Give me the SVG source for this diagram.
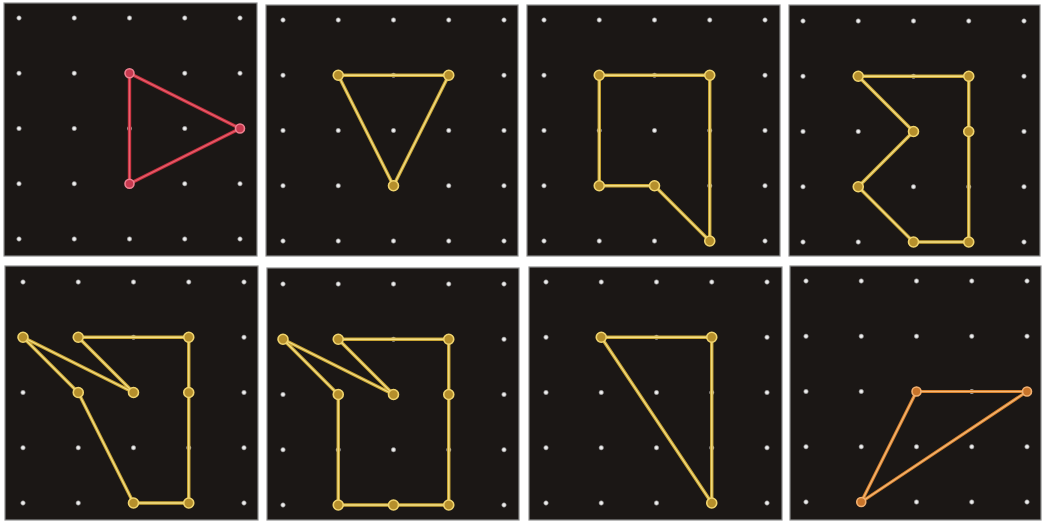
<svg xmlns="http://www.w3.org/2000/svg" xmlns:xlink="http://www.w3.org/1999/xlink" width="1042" height="521" viewBox="0 0 1042 521">
<style>
.board{fill:#1b1715;stroke:#8d8d8d;stroke-width:1.2}
.y-out{fill:none;stroke:#c9a535;stroke-width:3.4;stroke-linejoin:round}
.y-in{fill:none;stroke:#f4df86;stroke-width:1.3;stroke-linejoin:round}
.r-out{fill:none;stroke:#c8323f;stroke-width:3.4;stroke-linejoin:round}
.r-in{fill:none;stroke:#ea6272;stroke-width:1.3;stroke-linejoin:round}
.o-out{fill:none;stroke:#d9832e;stroke-width:3.2;stroke-linejoin:round}
.o-in{fill:none;stroke:#f5b878;stroke-width:1.2;stroke-linejoin:round}
.pin-y{fill:#b58f2c;stroke:#f0d46e;stroke-width:1.6}
.pin-r{fill:#c83a50;stroke:#ee8090;stroke-width:1.6}
.pin-o{fill:#c8742a;stroke:#f2b070;stroke-width:1.6}
</style>
<defs>
<radialGradient id="dg">
<stop offset="0" stop-color="#ffffff"/>
<stop offset="0.5" stop-color="#d8d8d8"/>
<stop offset="1" stop-color="#d8d8d8" stop-opacity="0"/>
</radialGradient>
<circle id="dot" r="3" fill="url(#dg)"/>
<g id="grid">
<use xlink:href="#dot" x="0" y="0"/><use xlink:href="#dot" x="55.25" y="0"/><use xlink:href="#dot" x="110.5" y="0"/><use xlink:href="#dot" x="165.75" y="0"/><use xlink:href="#dot" x="221" y="0"/>
<use xlink:href="#dot" x="0" y="55.25"/><use xlink:href="#dot" x="55.25" y="55.25"/><use xlink:href="#dot" x="110.5" y="55.25"/><use xlink:href="#dot" x="165.75" y="55.25"/><use xlink:href="#dot" x="221" y="55.25"/>
<use xlink:href="#dot" x="0" y="110.5"/><use xlink:href="#dot" x="55.25" y="110.5"/><use xlink:href="#dot" x="110.5" y="110.5"/><use xlink:href="#dot" x="165.75" y="110.5"/><use xlink:href="#dot" x="221" y="110.5"/>
<use xlink:href="#dot" x="0" y="165.75"/><use xlink:href="#dot" x="55.25" y="165.75"/><use xlink:href="#dot" x="110.5" y="165.75"/><use xlink:href="#dot" x="165.75" y="165.75"/><use xlink:href="#dot" x="221" y="165.75"/>
<use xlink:href="#dot" x="0" y="221"/><use xlink:href="#dot" x="55.25" y="221"/><use xlink:href="#dot" x="110.5" y="221"/><use xlink:href="#dot" x="165.75" y="221"/><use xlink:href="#dot" x="221" y="221"/>
</g>
</defs>
<rect width="1042" height="521" fill="#ffffff"/>

<g id="board1">
<rect class="board" x="4" y="3" width="253" height="253"/>
<g transform="translate(19,18)">
<use xlink:href="#grid"/>
<polygon class="r-out" points="110.5,55.25 221,110.5 110.5,165.75"/>
<polygon class="r-in" points="110.5,55.25 221,110.5 110.5,165.75"/>
<circle class="pin-r" cx="110.5" cy="55.25" r="4.5"/><circle class="pin-r" cx="221" cy="110.5" r="4.5"/><circle class="pin-r" cx="110.5" cy="165.75" r="4.5"/>
</g>
</g>

<g id="board2">
<rect class="board" x="266" y="5" width="252" height="251"/>
<g transform="translate(283,20)">
<use xlink:href="#grid"/>
<polygon class="y-out" points="55.25,55.25 165.75,55.25 110.5,165.75"/>
<polygon class="y-in" points="55.25,55.25 165.75,55.25 110.5,165.75"/>
<circle class="pin-y" cx="55.25" cy="55.25" r="5"/><circle class="pin-y" cx="165.75" cy="55.25" r="5"/><circle class="pin-y" cx="110.5" cy="165.75" r="5"/>
</g>
</g>

<g id="board3">
<rect class="board" x="527" y="5" width="253" height="251"/>
<g transform="translate(544,20)">
<use xlink:href="#grid"/>
<polygon class="y-out" points="55.25,55.25 165.75,55.25 165.75,221 110.5,165.75 55.25,165.75"/>
<polygon class="y-in" points="55.25,55.25 165.75,55.25 165.75,221 110.5,165.75 55.25,165.75"/>
<circle class="pin-y" cx="55.25" cy="55.25" r="5"/><circle class="pin-y" cx="165.75" cy="55.25" r="5"/><circle class="pin-y" cx="165.75" cy="221" r="5"/><circle class="pin-y" cx="110.5" cy="165.75" r="5"/><circle class="pin-y" cx="55.25" cy="165.75" r="5"/>
</g>
</g>

<g id="board4">
<rect class="board" x="789" y="5" width="251" height="251"/>
<g transform="translate(803,21)">
<use xlink:href="#grid"/>
<polygon class="y-out" points="55.25,55.25 165.75,55.25 165.75,221 110.5,221 55.25,165.75 110.5,110.5"/>
<polygon class="y-in" points="55.25,55.25 165.75,55.25 165.75,221 110.5,221 55.25,165.75 110.5,110.5"/>
<circle class="pin-y" cx="55.25" cy="55.25" r="5"/><circle class="pin-y" cx="165.75" cy="55.25" r="5"/><circle class="pin-y" cx="165.75" cy="110.5" r="5"/><circle class="pin-y" cx="165.75" cy="221" r="5"/><circle class="pin-y" cx="110.5" cy="221" r="5"/><circle class="pin-y" cx="55.25" cy="165.75" r="5"/><circle class="pin-y" cx="110.5" cy="110.5" r="5"/>
</g>
</g>

<g id="board5">
<rect class="board" x="5" y="266" width="253" height="254"/>
<g transform="translate(23,282)">
<use xlink:href="#grid"/>
<polygon class="y-out" points="0,55.25 110.5,110.5 55.25,55.25 165.75,55.25 165.75,221 110.5,221 55.25,110.5"/>
<polygon class="y-in" points="0,55.25 110.5,110.5 55.25,55.25 165.75,55.25 165.75,221 110.5,221 55.25,110.5"/>
<circle class="pin-y" cx="0" cy="55.25" r="5"/><circle class="pin-y" cx="110.5" cy="110.5" r="5"/><circle class="pin-y" cx="55.25" cy="55.25" r="5"/><circle class="pin-y" cx="165.75" cy="55.25" r="5"/><circle class="pin-y" cx="165.75" cy="110.5" r="5"/><circle class="pin-y" cx="165.75" cy="221" r="5"/><circle class="pin-y" cx="110.5" cy="221" r="5"/><circle class="pin-y" cx="55.25" cy="110.5" r="5"/>
</g>
</g>

<g id="board6">
<rect class="board" x="267" y="268" width="252" height="252"/>
<g transform="translate(283,284)">
<use xlink:href="#grid"/>
<polygon class="y-out" points="0,55.25 110.5,110.5 55.25,55.25 165.75,55.25 165.75,221 55.25,221 55.25,110.5"/>
<polygon class="y-in" points="0,55.25 110.5,110.5 55.25,55.25 165.75,55.25 165.75,221 55.25,221 55.25,110.5"/>
<circle class="pin-y" cx="0" cy="55.25" r="5"/><circle class="pin-y" cx="110.5" cy="110.5" r="5"/><circle class="pin-y" cx="55.25" cy="55.25" r="5"/><circle class="pin-y" cx="165.75" cy="55.25" r="5"/><circle class="pin-y" cx="165.75" cy="110.5" r="5"/><circle class="pin-y" cx="165.75" cy="221" r="5"/><circle class="pin-y" cx="110.5" cy="221" r="5"/><circle class="pin-y" cx="55.25" cy="221" r="5"/><circle class="pin-y" cx="55.25" cy="110.5" r="5"/>
</g>
</g>

<g id="board7">
<rect class="board" x="529" y="267" width="253" height="253"/>
<g transform="translate(546,282)">
<use xlink:href="#grid"/>
<polygon class="y-out" points="55.25,55.25 165.75,55.25 165.75,221"/>
<polygon class="y-in" points="55.25,55.25 165.75,55.25 165.75,221"/>
<circle class="pin-y" cx="55.25" cy="55.25" r="5"/><circle class="pin-y" cx="165.75" cy="55.25" r="5"/><circle class="pin-y" cx="165.75" cy="221" r="5"/>
</g>
</g>

<g id="board8">
<rect class="board" x="790" y="266" width="251" height="254"/>
<g transform="translate(806,281)">
<use xlink:href="#grid"/>
<polygon class="o-out" points="110.5,110.5 221,110.5 55.25,221"/>
<polygon class="o-in" points="110.5,110.5 221,110.5 55.25,221"/>
<circle class="pin-o" cx="110.5" cy="110.5" r="4.5"/><circle class="pin-o" cx="221" cy="110.5" r="4.5"/><circle class="pin-o" cx="55.25" cy="221" r="4.5"/>
</g>
</g>
</svg>
